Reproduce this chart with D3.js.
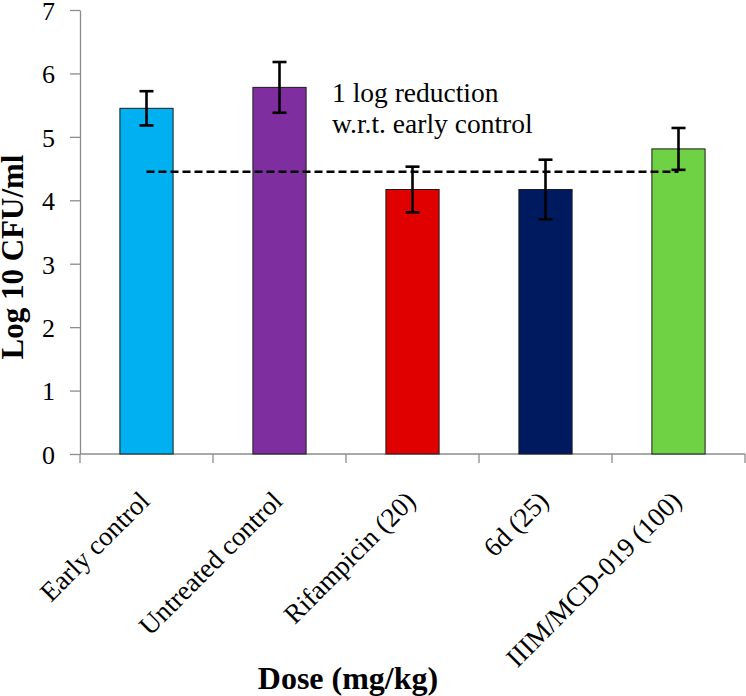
<!DOCTYPE html>
<html lang="en">
<head>
    <meta charset="UTF-8">
    <title>Log 10 CFU/ml by dose</title>
    <script src="https://cdn.jsdelivr.net/npm/d3@7"></script>
    <style>
        body {
            margin: 0;
            background: #fff;
        }

        .axis path, .axis line {
            stroke: #8c8c8c;
            stroke-width: 1.3px;
        }

        .bar {
            stroke: #1c1c1c;
            stroke-width: 1px
        }

        .err {
            stroke: #000;
            stroke-width: 2.6px;
        }
    </style>
</head>
<body>
<div id="chart"></div>
<script>
    var categories = ['Early control', 'Untreated control', 'Rifampicin (20)', '6d (25)', 'IIIM/MCD-019 (100)'];
    var means = [5.45, 5.78, 4.17, 4.17, 4.81];
    var errors = [0.27, 0.40, 0.36, 0.47, 0.33];
    var colors = ['#00b0f0', '#7f2ea0', '#e00000', '#001a60', '#6ed244'];
    var refLevel = 4.45;  // early control minus one log
    var yTicks = [0, 1, 2, 3, 4, 5, 6, 7];

    var FONT = '"Liberation Serif", "DejaVu Serif", serif';
    var width = 746, height = 696;
    var margin = {top: 10, right: 1, bottom: 242, left: 80};

    var svg = d3.select('#chart').append('svg')
        .attr('width', width)
        .attr('height', height)
        .attr('font-family', FONT);

    var x = d3.scaleBand()
        .domain(categories)
        .range([margin.left, width - margin.right])
        .paddingInner(0.6)
        .paddingOuter(0.3);

    var y = d3.scaleLinear()
        .domain([0, 7])
        .range([height - margin.bottom, margin.top]);

    // y axis
    var yg = svg.append('g')
        .attr('class', 'axis')
        .attr('transform', 'translate(' + margin.left + ',0)')
        .call(d3.axisLeft(y).tickValues(yTicks).tickFormat(d3.format('d'))
            .tickSize(10).tickPadding(15).tickSizeOuter(0));
    yg.attr('font-family', FONT).attr('font-size', 26);
    yg.selectAll('text').attr('dy', '0.36em').attr('fill', '#000');

    // x axis: ticks at band boundaries, like the spreadsheet chart
    var xg = svg.append('g')
        .attr('class', 'axis')
        .attr('transform', 'translate(0,' + y(0) + ')')
        .attr('font-size', 27);
    xg.append('line')
        .attr('x1', margin.left).attr('x2', width - margin.right)
        .attr('y1', 0).attr('y2', 0);
    var step = x.step();
    var bounds = d3.range(categories.length + 1).map(function (i) {
        return x(categories[0]) - x.paddingOuter() * step + i * step;
    });
    xg.selectAll('line.tick')
        .data(bounds)
        .enter().append('line')
        .attr('class', 'tick')
        .attr('x1', d => d).attr('x2', d => d)
        .attr('y1', 0).attr('y2', 9);

    xg.selectAll('text')
        .data(categories)
        .enter().append('text')
        .attr('text-anchor', 'end')
        .attr('dy', '0.35em')
        .attr('transform', d => 'translate(' + (x(d) + x.bandwidth() / 2 - 2) + ',42) rotate(-45)')
        .text(d => d);

    // bars
    svg.selectAll('rect.bar')
        .data(categories)
        .enter().append('rect')
        .attr('class', 'bar')
        .attr('x', d => x(d))
        .attr('width', x.bandwidth())
        .attr('y', (d, i) => y(means[i]))
        .attr('height', (d, i) => y(0) - y(means[i]))
        .attr('fill', (d, i) => colors[i]);

    // reference line (1 log reduction)
    svg.append('line')
        .attr('x1', x(categories[0]) + x.bandwidth() / 2)
        .attr('x2', x(categories[categories.length - 1]) + x.bandwidth() / 2)
        .attr('y1', y(refLevel)).attr('y2', y(refLevel))
        .attr('stroke', '#000')
        .attr('stroke-width', 2.4)
        .attr('stroke-dasharray', '8,4');

    // error bars
    var capW = 7;
    var eb = svg.selectAll('g.err')
        .data(categories)
        .enter().append('g')
        .attr('class', 'err');
    eb.append('line')
        .attr('x1', d => x(d) + x.bandwidth() / 2)
        .attr('x2', d => x(d) + x.bandwidth() / 2)
        .attr('y1', (d, i) => y(means[i] + errors[i]))
        .attr('y2', (d, i) => y(means[i] - errors[i]));
    [1, -1].forEach(function (s) {
        eb.append('line')
            .attr('x1', d => x(d) + x.bandwidth() / 2 - capW)
            .attr('x2', d => x(d) + x.bandwidth() / 2 + capW)
            .attr('y1', (d, i) => y(means[i] + s * errors[i]))
            .attr('y2', (d, i) => y(means[i] + s * errors[i]));
    });

    // annotation
    var note = svg.append('text')
        .attr('x', 332)
        .attr('y', 102)
        .attr('font-size', 27.5);
    note.append('tspan').attr('x', 332).text('1 log reduction');
    note.append('tspan').attr('x', 332).attr('dy', 31).text('w.r.t. early control');

    // axis titles
    svg.append('text')
        .attr('transform', 'translate(23,257) rotate(-90)')
        .attr('text-anchor', 'middle')
        .attr('font-size', 31)
        .attr('font-weight', 'bold')
        .text('Log 10 CFU/ml');

    svg.append('text')
        .attr('x', 348)
        .attr('y', 689)
        .attr('text-anchor', 'middle')
        .attr('font-size', 32)
        .attr('font-weight', 'bold')
        .text('Dose (mg/kg)');
</script>
</body>
</html>
